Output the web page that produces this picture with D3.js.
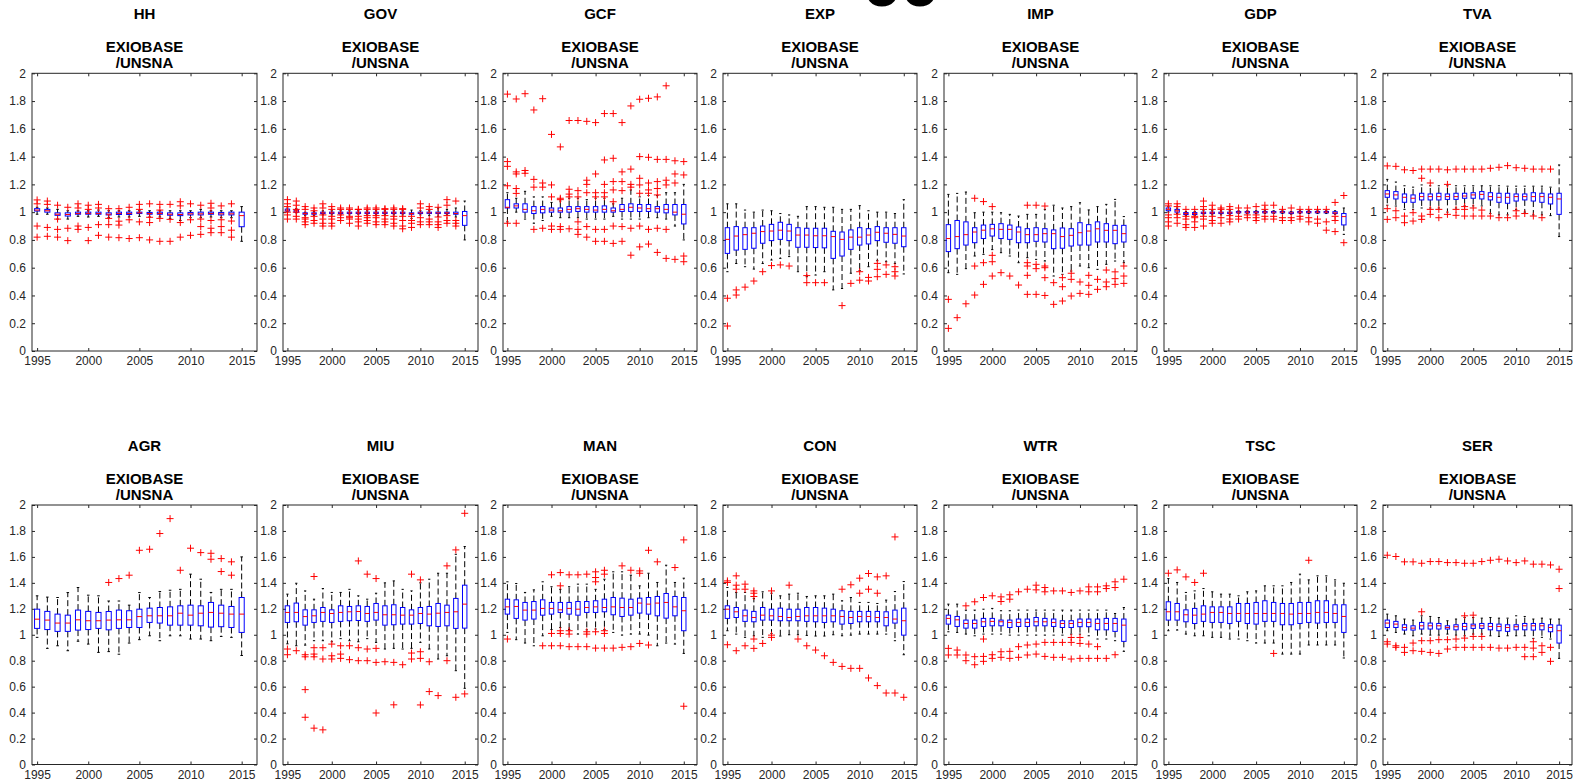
<!DOCTYPE html>
<html>
<head>
<meta charset="utf-8">
<script src="https://cdn.jsdelivr.net/npm/d3@7"></script>
<style>
  body { margin: 0; background: #fff; }
  svg { display: block; }
  text { font-family: "Liberation Sans", Arial, Helvetica, sans-serif; }
</style>
</head>
<body>
<div id="chart"></div>
<script>
// ---- data ----
var panels = ["HH", "GOV", "GCF", "EXP", "IMP", "GDP", "TVA",
              "AGR", "MIU", "MAN", "CON", "WTR", "TSC", "SER"];
var subtitle = ["EXIOBASE", "/UNSNA"];
var years = [1995, 1996, 1997, 1998, 1999, 2000, 2001, 2002, 2003, 2004, 2005,
             2006, 2007, 2008, 2009, 2010, 2011, 2012, 2013, 2014, 2015];
var xTicks = [1995, 2000, 2005, 2010, 2015];
var yTicks = [0, 0.2, 0.4, 0.6, 0.8, 1, 1.2, 1.4, 1.6, 1.8, 2];

// lower quartile, one row per panel (same order as panels)
var q1 = [
  [1.008,1.0,0.977,0.972,0.985,0.985,0.985,0.98,0.983,0.983,0.99,0.985,0.985,0.978,0.975,0.98,0.98,0.985,0.98,0.98,0.895],
  [1.008,1.0,0.985,0.985,0.99,0.99,0.99,0.99,0.99,0.99,0.99,0.99,0.99,0.99,0.985,0.99,0.99,0.99,0.99,0.985,0.905],
  [1.03,1.03,1.0,0.99,0.995,1.0,1.0,1.0,1.005,1.0,1.0,1.0,1.0,1.005,1.005,1.005,1.005,1.0,0.995,0.98,0.915],
  [0.703,0.727,0.732,0.74,0.776,0.795,0.804,0.795,0.747,0.747,0.745,0.743,0.667,0.684,0.732,0.763,0.771,0.795,0.783,0.776,0.751],
  [0.716,0.737,0.763,0.78,0.81,0.828,0.81,0.804,0.78,0.78,0.79,0.785,0.737,0.74,0.756,0.763,0.763,0.785,0.785,0.773,0.785],
  [1.01,1.0,0.983,0.983,0.99,0.99,0.99,0.99,0.995,0.995,0.995,0.995,0.995,0.995,0.99,0.995,0.995,0.995,0.995,0.99,0.908],
  [1.107,1.095,1.071,1.071,1.088,1.088,1.088,1.092,1.092,1.1,1.1,1.095,1.088,1.071,1.064,1.08,1.088,1.08,1.071,1.059,0.984],
  [1.049,1.04,1.026,1.026,1.036,1.04,1.049,1.038,1.049,1.056,1.056,1.095,1.09,1.074,1.074,1.074,1.069,1.059,1.062,1.056,1.018],
  [1.095,1.1,1.074,1.095,1.103,1.095,1.103,1.108,1.11,1.103,1.113,1.074,1.077,1.082,1.082,1.087,1.069,1.064,1.069,1.049,1.051],
  [1.159,1.126,1.113,1.121,1.151,1.159,1.172,1.159,1.151,1.172,1.172,1.177,1.154,1.141,1.151,1.167,1.159,1.146,1.128,1.146,1.031],
  [1.126,1.133,1.103,1.1,1.113,1.113,1.108,1.108,1.108,1.103,1.1,1.095,1.1,1.082,1.087,1.1,1.1,1.1,1.069,1.09,0.997],
  [1.082,1.064,1.051,1.051,1.064,1.069,1.069,1.056,1.064,1.064,1.069,1.069,1.064,1.056,1.056,1.062,1.062,1.038,1.038,1.026,0.949],
  [1.113,1.113,1.1,1.087,1.103,1.095,1.095,1.087,1.103,1.087,1.082,1.103,1.103,1.077,1.077,1.087,1.095,1.09,1.095,1.095,1.018],
  [1.056,1.056,1.036,1.036,1.044,1.044,1.044,1.044,1.038,1.038,1.049,1.049,1.038,1.031,1.026,1.038,1.038,1.036,1.038,1.023,0.936]
];
// medians
var med = [
  [1.015,1.01,0.985,0.983,0.99,0.99,0.99,0.985,0.99,0.99,0.995,0.99,0.99,0.985,0.983,0.988,0.988,0.99,0.988,0.988,0.975],
  [1.015,1.01,0.99,0.99,0.995,0.995,0.995,0.995,0.995,0.995,0.995,0.995,0.995,0.995,0.99,0.995,0.995,0.995,0.995,0.99,0.975],
  [1.035,1.045,1.02,1.01,1.02,1.015,1.01,1.02,1.025,1.02,1.015,1.02,1.01,1.02,1.035,1.03,1.025,1.025,1.02,1.0,0.985],
  [0.804,0.828,0.838,0.848,0.86,0.864,0.87,0.864,0.835,0.835,0.83,0.83,0.824,0.804,0.82,0.82,0.835,0.855,0.848,0.84,0.828],
  [0.81,0.824,0.838,0.857,0.87,0.88,0.876,0.876,0.857,0.838,0.838,0.845,0.845,0.824,0.833,0.852,0.864,0.88,0.869,0.869,0.845],
  [1.02,1.01,0.99,0.99,0.995,0.995,0.995,0.995,1.0,1.0,1.0,1.0,1.0,1.0,0.995,1.0,1.0,1.0,1.0,0.995,0.968],
  [1.131,1.124,1.107,1.1,1.112,1.112,1.112,1.112,1.112,1.116,1.124,1.128,1.112,1.107,1.107,1.112,1.112,1.112,1.112,1.107,1.095],
  [1.12,1.113,1.09,1.09,1.115,1.108,1.108,1.113,1.115,1.115,1.14,1.146,1.146,1.146,1.166,1.151,1.166,1.172,1.166,1.159,1.159],
  [1.172,1.172,1.14,1.146,1.172,1.164,1.172,1.177,1.179,1.164,1.172,1.154,1.154,1.151,1.151,1.164,1.159,1.166,1.172,1.177,1.236],
  [1.215,1.218,1.19,1.19,1.203,1.203,1.192,1.203,1.197,1.21,1.215,1.21,1.215,1.21,1.21,1.244,1.236,1.244,1.249,1.215,1.185],
  [1.197,1.177,1.146,1.133,1.151,1.146,1.141,1.133,1.141,1.146,1.146,1.146,1.146,1.141,1.133,1.141,1.141,1.133,1.133,1.121,1.108],
  [1.126,1.115,1.087,1.087,1.1,1.103,1.1,1.095,1.095,1.095,1.1,1.1,1.095,1.087,1.087,1.095,1.095,1.087,1.087,1.087,1.074],
  [1.177,1.177,1.154,1.151,1.159,1.172,1.172,1.164,1.164,1.164,1.164,1.164,1.164,1.164,1.159,1.164,1.164,1.172,1.172,1.164,1.141],
  [1.09,1.082,1.056,1.051,1.069,1.069,1.069,1.056,1.062,1.064,1.069,1.069,1.064,1.064,1.056,1.062,1.069,1.069,1.069,1.056,1.031]
];
// upper quartile
var q3 = [
  [1.025,1.02,0.995,0.995,1.0,1.0,1.0,0.995,1.0,1.0,1.0,0.998,1.0,0.995,0.995,0.998,1.0,1.0,0.998,1.0,1.0],
  [1.022,1.017,0.995,0.995,1.0,1.0,1.0,1.0,1.0,1.0,1.0,1.0,1.0,1.0,0.995,1.0,1.0,1.0,1.0,1.0,1.005],
  [1.09,1.06,1.06,1.04,1.04,1.03,1.03,1.04,1.04,1.04,1.04,1.045,1.03,1.055,1.06,1.055,1.055,1.04,1.055,1.055,1.055],
  [0.888,0.896,0.888,0.888,0.9,0.912,0.927,0.912,0.888,0.884,0.884,0.884,0.862,0.857,0.872,0.888,0.881,0.896,0.888,0.888,0.888],
  [0.91,0.94,0.93,0.888,0.907,0.912,0.917,0.907,0.893,0.881,0.888,0.881,0.872,0.886,0.881,0.924,0.91,0.93,0.917,0.905,0.905],
  [1.03,1.02,0.997,0.997,1.0,1.0,1.0,1.0,1.005,1.005,1.005,1.005,1.005,1.005,1.0,1.005,1.005,1.005,1.005,1.003,0.99],
  [1.155,1.148,1.131,1.124,1.136,1.131,1.136,1.131,1.136,1.136,1.14,1.148,1.14,1.136,1.136,1.131,1.131,1.14,1.136,1.131,1.136],
  [1.197,1.18,1.159,1.151,1.19,1.18,1.172,1.179,1.19,1.185,1.197,1.205,1.21,1.215,1.223,1.228,1.223,1.249,1.228,1.218,1.287],
  [1.223,1.244,1.192,1.192,1.21,1.192,1.223,1.218,1.223,1.218,1.241,1.223,1.231,1.21,1.192,1.21,1.218,1.241,1.228,1.28,1.382],
  [1.274,1.269,1.249,1.256,1.269,1.249,1.249,1.249,1.256,1.256,1.262,1.274,1.287,1.282,1.274,1.282,1.287,1.295,1.318,1.295,1.287],
  [1.223,1.21,1.19,1.18,1.21,1.197,1.205,1.197,1.197,1.21,1.21,1.205,1.197,1.185,1.18,1.18,1.18,1.18,1.177,1.19,1.205],
  [1.151,1.141,1.113,1.113,1.126,1.126,1.113,1.113,1.121,1.121,1.133,1.126,1.121,1.108,1.108,1.121,1.121,1.121,1.126,1.126,1.121],
  [1.254,1.241,1.192,1.203,1.223,1.215,1.215,1.215,1.241,1.241,1.249,1.262,1.249,1.241,1.241,1.249,1.249,1.262,1.262,1.231,1.231],
  [1.113,1.103,1.077,1.069,1.095,1.09,1.087,1.069,1.077,1.087,1.082,1.087,1.087,1.082,1.077,1.077,1.087,1.087,1.087,1.077,1.074]
];
// lower whisker end
var lo = [
  [0.985,0.985,0.95,0.95,0.97,0.965,0.97,0.96,0.965,0.965,0.97,0.965,0.965,0.955,0.94,0.96,0.96,0.965,0.96,0.96,0.79],
  [1.003,0.995,0.975,0.975,0.98,0.98,0.98,0.98,0.985,0.98,0.98,0.98,0.98,0.98,0.955,0.98,0.975,0.97,0.98,0.965,0.8],
  [0.93,1.0,0.95,0.92,0.94,0.97,0.96,0.96,0.96,0.95,0.95,0.95,0.97,0.95,0.95,0.95,0.96,0.96,0.95,0.9,0.8],
  [0.571,0.63,0.607,0.59,0.63,0.655,0.667,0.68,0.571,0.535,0.547,0.571,0.44,0.45,0.56,0.579,0.607,0.65,0.643,0.63,0.555],
  [0.564,0.552,0.593,0.684,0.696,0.73,0.708,0.684,0.636,0.672,0.66,0.648,0.54,0.552,0.576,0.612,0.6,0.588,0.624,0.648,0.636],
  [1.0,0.99,0.975,0.975,0.98,0.98,0.98,0.98,0.99,0.99,0.99,0.99,0.99,0.99,0.985,0.99,0.99,0.99,0.99,0.985,0.84],
  [1.05,1.044,1.02,1.02,1.03,1.03,1.03,1.0,1.03,1.045,1.045,1.045,0.99,0.98,0.98,1.02,1.0,0.98,0.98,0.975,0.824],
  [0.98,0.895,0.915,0.877,0.95,0.928,0.864,0.87,0.85,0.936,0.962,0.992,0.954,0.992,0.992,0.967,0.967,0.954,0.987,0.98,0.84],
  [0.93,0.915,0.92,0.954,0.954,0.946,0.97,0.954,0.946,0.97,0.941,0.89,0.895,0.89,0.895,0.941,0.89,0.813,0.838,0.723,0.587],
  [1.018,0.962,0.936,0.915,0.992,1.04,1.056,1.04,1.005,1.038,1.044,1.04,1.018,0.997,1.005,1.005,0.997,0.915,0.936,0.928,0.856],
  [1.031,1.005,0.98,0.992,0.98,1.01,0.99,1.0,1.0,0.995,0.99,0.99,1.0,0.992,0.997,1.005,1.005,1.005,1.005,0.954,0.846],
  [1.023,1.018,1.005,0.992,1.005,1.005,1.005,0.997,0.997,0.997,0.997,0.997,0.997,0.997,1.005,1.005,0.992,0.967,0.967,0.954,0.872],
  [1.031,1.036,1.005,0.992,0.992,0.98,0.98,0.967,0.967,0.954,0.936,0.936,0.936,0.851,0.851,0.851,0.921,0.921,0.921,0.921,0.821],
  [1.031,1.018,1.005,0.992,1.005,0.997,0.997,1.005,0.997,0.992,1.005,1.005,0.992,0.987,0.992,0.992,0.992,0.972,0.98,0.967,0.818]
];
// upper whisker end
var hi = [
  [1.035,1.03,1.02,1.01,1.01,1.01,1.015,1.01,1.01,1.01,1.01,1.01,1.01,1.01,1.01,1.01,1.02,1.01,1.01,1.01,1.04],
  [1.03,1.025,1.0,1.005,1.01,1.01,1.01,1.01,1.01,1.01,1.01,1.01,1.01,1.01,1.015,1.01,1.01,1.03,1.02,1.03,1.08],
  [1.14,1.1,1.15,1.11,1.11,1.07,1.08,1.1,1.1,1.09,1.1,1.1,1.06,1.1,1.16,1.11,1.12,1.12,1.14,1.14,1.2],
  [1.06,1.06,1.015,1.0,1.015,1.01,0.99,0.98,0.97,1.04,1.04,1.035,1.035,1.02,1.02,1.047,1.01,1.0,1.0,0.99,1.09],
  [1.128,1.135,1.145,0.996,1.0,1.0,0.996,0.984,0.972,0.984,0.984,1.02,1.05,1.03,1.04,1.068,1.016,1.04,1.056,1.092,0.968],
  [1.04,1.03,1.005,1.005,1.01,1.01,1.01,1.01,1.01,1.01,1.01,1.01,1.01,1.01,1.005,1.01,1.01,1.01,1.01,1.01,1.03],
  [1.236,1.217,1.19,1.18,1.196,1.19,1.19,1.19,1.19,1.19,1.19,1.19,1.19,1.19,1.187,1.187,1.187,1.187,1.187,1.18,1.34],
  [1.3,1.29,1.287,1.325,1.364,1.305,1.3,1.26,1.26,1.228,1.325,1.287,1.333,1.343,1.35,1.467,1.428,1.326,1.35,1.35,1.6],
  [1.313,1.397,1.338,1.274,1.356,1.326,1.326,1.35,1.3,1.274,1.32,1.4,1.415,1.35,1.338,1.4,1.428,1.474,1.474,1.62,1.68],
  [1.408,1.395,1.326,1.346,1.408,1.37,1.35,1.37,1.39,1.39,1.35,1.428,1.485,1.485,1.459,1.377,1.474,1.403,1.536,1.403,1.436],
  [1.364,1.326,1.326,1.28,1.331,1.32,1.3,1.313,1.32,1.295,1.3,1.3,1.313,1.262,1.287,1.249,1.249,1.241,1.267,1.333,1.41],
  [1.236,1.236,1.19,1.19,1.197,1.203,1.185,1.185,1.19,1.19,1.19,1.19,1.19,1.19,1.19,1.19,1.19,1.19,1.19,1.164,1.21],
  [1.433,1.403,1.326,1.338,1.356,1.331,1.313,1.313,1.3,1.331,1.338,1.377,1.377,1.377,1.403,1.467,1.423,1.454,1.454,1.423,1.397],
  [1.159,1.146,1.121,1.113,1.146,1.141,1.133,1.108,1.121,1.133,1.133,1.128,1.133,1.128,1.128,1.146,1.141,1.121,1.128,1.121,1.121]
];
// outliers per panel, per year
var outliers = [
  [[1.088,1.06,0.9,0.82],[1.08,1.056,0.89,0.826],[1.05,0.95,0.876,0.82],[1.035,0.884,0.795],[1.06,1.03,0.9,0.876],[1.05,1.02,0.89,0.795],[1.056,1.03,0.91,0.833],[1.025,0.955,0.91,0.82],[1.025,0.935,0.907,0.816],[1.035,0.945,0.81],[1.056,1.02,0.93,0.816],[1.06,0.963,0.925,0.8],[1.056,1.015,0.955,0.79],[1.056,0.948,0.79],[1.075,1.045,0.925,0.82],[1.06,0.945,0.833],[1.05,0.95,0.896,0.84],[1.064,1.03,0.94,0.884,0.852],[1.045,0.945,0.896,0.852],[1.06,0.936,0.87,0.82],[]],
  [[1.09,1.06,1.04,1.0,0.98,0.95],[1.08,1.05,1.02,1.0,0.97,0.95],[1.04,1.02,0.96,0.95,0.93,0.91],[1.03,1.01,0.97,0.94,0.92],[1.06,1.03,0.98,0.95,0.92,0.9],[1.04,1.02,0.97,0.95,0.92,0.9],[1.03,1.02,0.98,0.96,0.94],[1.03,1.02,0.97,0.96,0.95,0.92],[1.02,1.02,0.97,0.95,0.93,0.9],[1.03,1.02,0.975,0.96,0.94,0.92],[1.03,1.02,0.975,0.96,0.93,0.91],[1.025,1.02,0.975,0.95,0.93,0.91],[1.03,1.02,0.97,0.95,0.92,0.9],[1.025,1.02,0.97,0.94,0.9,0.88],[0.97,0.94,0.92,0.89],[1.06,1.03,0.96,0.93,0.91],[1.04,1.02,0.95,0.93,0.91],[1.035,0.965,0.93,0.91,0.89],[1.09,1.05,0.975,0.94,0.92],[1.08,0.94,0.92,0.9],[]],
  [[1.85,1.364,1.33,1.19,0.92],[1.815,1.29,1.275,1.17,1.135,0.92],[1.853,1.3,1.28],[1.736,1.236,1.18,0.876],[1.817,1.21,1.18,0.884],[1.56,1.196,1.11,0.9,0.876],[1.47,1.1,1.09,0.896,0.876],[1.66,1.165,1.13,1.11,0.88],[1.66,1.155,1.11,0.93,0.876,0.84],[1.654,1.23,1.2,1.14,0.896,0.82],[1.645,1.275,1.14,1.11,0.876,0.79],[1.71,1.376,1.2,1.14,1.11,0.876,0.79],[1.71,1.388,1.22,1.16,1.075,0.9,0.775],[1.645,1.29,1.22,1.155,0.896,0.79],[1.765,1.31,1.2,1.18,0.884,0.69],[1.813,1.4,1.244,1.196,1.136,0.9,0.75],[1.82,1.395,1.21,1.16,1.136,0.876,0.77],[1.83,1.38,1.22,1.17,1.124,0.884,0.71],[1.91,1.38,1.23,1.196,0.876,0.667],[1.37,1.275,1.21,0.66],[1.364,1.268,0.684,0.643]],
  [[0.38,0.18],[0.44,0.403],[0.46],[0.504],[0.571],[0.615],[0.62],[0.612],[],[0.543,0.492],[0.492],[0.492],[],[0.327],[0.487],[0.571,0.51],[0.53,0.504],[0.631,0.588,0.535],[0.62,0.552],[0.607,0.571,0.54],[]],
  [[0.372,0.163],[0.24],[0.34],[1.1,0.612,0.403],[1.076,0.636,0.48],[1.04,0.689,0.643,0.54],[0.564],[0.54],[0.475],[1.05,0.636,0.612,0.545,0.408],[1.05,0.624,0.593,0.408],[1.044,0.612,0.6,0.528,0.4],[0.492,0.336],[0.528,0.463,0.36],[0.56,0.516,0.396],[0.497,0.415],[0.545,0.473,0.408],[0.516,0.444],[0.583,0.497,0.463],[0.57,0.521,0.48],[0.612,0.54,0.487]],
  [[1.06,1.045,0.98,0.96,0.93,0.9],[1.06,1.04,0.985,0.96,0.92],[1.02,0.97,0.95,0.91,0.89],[1.02,0.97,0.96,0.93,0.89],[1.08,1.04,1.02,0.97,0.95,0.9],[1.05,1.02,0.97,0.94,0.92],[1.03,1.02,0.96,0.92],[1.04,1.02,0.975,0.95,0.93],[1.03,0.97,0.95],[1.03,0.98,0.96],[1.04,0.98,0.96,0.94],[1.05,1.02,0.97,0.95],[1.05,0.97,0.95],[1.02,0.96,0.94],[1.03,0.96,0.94],[1.02,0.97,0.95],[1.02,0.96,0.93],[1.02,0.95,0.92],[1.02,0.93,0.87],[1.07,0.97,0.94,0.86],[1.12,0.78]],
  [[1.333,1.025,0.948],[1.33,1.01,0.96],[1.305,0.972,0.924],[1.3,0.996,0.936],[1.31,1.244,0.972,0.948],[1.31,1.21,1.02,0.984],[1.31,1.02,0.96],[1.305,1.2,0.984],[1.31,1.02,0.977],[1.31,1.04,1.02,0.972],[1.31,1.03,0.972],[1.31,1.015,0.972],[1.316,0.972],[1.323,0.96],[1.335,0.96],[1.32,1.01,0.972],[1.316,0.99],[1.31,0.972],[1.31,0.96],[1.31],[]],
  [[],[],[],[],[],[],[],[1.403],[1.433],[1.459],[1.651],[1.659],[1.78],[1.895],[1.497],[1.667],[1.633],[1.628,1.582],[1.587,1.487],[1.562,1.459],[]],
  [[0.89,0.846],[0.877],[0.846,0.83,0.577,0.364],[1.449,0.9,0.851,0.83,0.28],[0.9,0.813,0.267],[0.928,0.838,0.813],[0.915,0.851,0.818],[0.915,0.808],[1.569,0.9,0.8],[1.467,0.89,0.8],[1.433,0.895,0.787,0.397],[0.792],[0.787,0.46],[0.769],[1.467,0.859,0.813],[1.423,0.869,0.818,0.459],[0.792,0.562],[0.531],[1.531,0.8],[1.654,0.518],[1.936,0.544]],
  [[0.967],[],[],[],[0.915],[1.462,1.01,0.915],[1.479,1.377,1.031,1.01,0.915],[1.462,1.031,1.005,0.908],[1.462,0.908],[1.467,1.023,1.005,0.908],[1.485,1.441,1.408,1.023,0.897],[1.497,1.467,1.031,1.01,0.897],[0.897],[1.531,0.903],[1.497,0.908],[1.492,1.474,0.933],[1.651,0.921],[1.562],[],[1.518],[1.731,0.449]],
  [[1.415,1.403,0.923],[1.454,1.382,1.351,0.877],[1.39,1.351,0.915],[1.338,1.32,1.295,0.967,0.895],[0.933],[1.338,0.997,0.98],[],[1.382],[0.967],[0.915],[0.882],[0.838],[0.787],[1.351,0.756],[1.385,0.741],[1.436,1.32,0.741],[1.472,1.351,0.667],[1.446,1.32,0.608],[1.454,0.551],[1.754,0.551],[0.518]],
  [[0.895,0.844],[0.882,0.844],[1.223,0.844,0.8],[1.254,0.831,0.769],[1.287,0.967,0.833,0.795],[1.3,0.846,0.818],[1.292,1.256,0.869,0.826],[1.308,1.274,0.872,0.818],[1.331,0.908,0.826],[1.351,0.921,0.844],[1.382,1.346,0.928,0.851],[1.364,1.331,0.941,0.833],[1.338,0.941,0.826],[1.338,0.941,0.826],[1.326,0.979,0.941,0.813],[1.338,0.979,0.933,0.818],[1.369,1.331,0.928,0.818],[1.369,1.331,0.908,0.818],[1.377,1.356,0.818],[1.408,1.364,0.846],[1.428]],
  [[1.474],[1.5],[1.446],[1.403],[1.474],[],[],[],[],[],[],[],[0.856],[],[],[],[1.574],[],[],[],[]],
  [[1.613,0.946,0.928],[1.603,0.915,0.903],[1.562,0.903,0.864],[1.562,0.936,0.877],[1.551,1.177,0.954,0.872],[1.564,0.954,0.864],[1.564,0.962,0.856],[1.556,0.962,0.89],[1.556,0.967,0.903],[1.551,1.146,0.974,0.903],[1.551,1.151,0.987,0.903],[1.564,0.987,0.903],[1.574,0.903],[1.582,0.897],[1.569,0.897],[1.556,0.903],[1.569,0.903,0.831],[1.544,0.946,0.897,0.831],[1.544,0.915,0.864],[1.538,0.903,0.795],[1.505,1.356]]
];

// ---- layout ----
var colX = [[32,257],[283,478],[503,697],[723,917],[944,1137],[1164,1357],[1383,1572]];
var rowY = [[73.3,351],[505,764.5]];
var axisColor = '#262626';

var svg = d3.select('#chart').append('svg')
    .attr('width', 1574)
    .attr('height', 783);

// figure title, mostly cut off above the top edge
svg.append('text')
    .attr('x', 863).attr('y', 6)
    .attr('textLength', 76).attr('lengthAdjust', 'spacingAndGlyphs')
    .style('font-size', '70px').style('font-weight', 'bold')
    .text('oo');

panels.forEach(function (name, p) {
  var row = Math.floor(p / 7), col = p % 7;
  var x = d3.scaleLinear().domain([1994.5, 2016.5]).range(colX[col]);
  var y = d3.scaleLinear().domain([0, 2]).range([rowY[row][1], rowY[row][0]]);
  var top = rowY[row][0], bottom = rowY[row][1];
  var left = colX[col][0], right = colX[col][1];
  var g = svg.append('g');

  // titles
  var cx = (left + right) / 2;
  g.append('text').attr('x', cx).attr('y', top - 54).text(name);
  g.append('text').attr('x', cx).attr('y', top - 21.5).text(subtitle[0]);
  g.append('text').attr('x', cx).attr('y', top - 5.5).text(subtitle[1]);
  g.selectAll('text')
      .attr('text-anchor', 'middle')
      .style('font-size', '15px').style('font-weight', 'bold').style('fill', '#000');

  // axes, ticks pointing inward on all four sides
  var ax = g.append('g');
  ax.append('g').attr('transform', 'translate(' + left + ',0)')
      .call(d3.axisLeft(y).tickValues(yTicks).tickSize(-3).tickPadding(6).tickFormat(String));
  ax.append('g').attr('transform', 'translate(' + right + ',0)')
      .call(d3.axisRight(y).tickValues(yTicks).tickSize(-3).tickFormat(''));
  ax.append('g').attr('transform', 'translate(0,' + bottom + ')')
      .call(d3.axisBottom(x).tickValues(xTicks).tickSize(-3).tickPadding(5.5).tickFormat(String));
  ax.append('g').attr('transform', 'translate(0,' + top + ')')
      .call(d3.axisTop(x).tickValues(xTicks).tickSize(-3).tickFormat(''));
  ax.selectAll('.domain').remove();
  ax.selectAll('.tick line').attr('stroke', axisColor);
  ax.selectAll('.tick text')
      .attr('fill', axisColor)
      .style('font-size', '12px')
      .style('font-family', '"Liberation Sans", Arial, Helvetica, sans-serif');
  ax.append('rect')
      .attr('x', left).attr('y', top)
      .attr('width', right - left).attr('height', bottom - top)
      .attr('fill', 'none').attr('stroke', axisColor).attr('stroke-width', 1);

  var stats = years.map(function (yr, i) {
    return { yr: yr, lo: lo[p][i], q1: q1[p][i], med: med[p][i], q3: q3[p][i], hi: hi[p][i] };
  });
  var half = (x(1) - x(0)) / 4;   // boxes are half a year wide

  // whiskers
  g.selectAll('.whisker').data(stats).enter().append('path')
      .attr('class', 'whisker')
      .attr('d', function (d) {
        return 'M' + x(d.yr) + ',' + y(d.q3) + 'V' + y(d.hi) +
               'M' + x(d.yr) + ',' + y(d.q1) + 'V' + y(d.lo);
      })
      .attr('fill', 'none').attr('stroke', '#000').attr('stroke-dasharray', '6,3');
  // adjacent value caps
  g.selectAll('.cap').data(stats).enter().append('path')
      .attr('class', 'cap')
      .attr('d', function (d) {
        return 'M' + (x(d.yr) - half / 2) + ',' + y(d.hi) + 'H' + (x(d.yr) + half / 2) +
               'M' + (x(d.yr) - half / 2) + ',' + y(d.lo) + 'H' + (x(d.yr) + half / 2);
      })
      .attr('stroke', '#000');
  // boxes
  g.selectAll('.box').data(stats).enter().append('rect')
      .attr('class', 'box')
      .attr('x', function (d) { return x(d.yr) - half; })
      .attr('y', function (d) { return y(d.q3); })
      .attr('width', half * 2)
      .attr('height', function (d) { return y(d.q1) - y(d.q3); })
      .attr('fill', 'none').attr('stroke', '#0000ff');
  // medians
  g.selectAll('.median').data(stats).enter().append('line')
      .attr('class', 'median')
      .attr('x1', function (d) { return x(d.yr) - half; })
      .attr('x2', function (d) { return x(d.yr) + half; })
      .attr('y1', function (d) { return y(d.med); })
      .attr('y2', function (d) { return y(d.med); })
      .attr('stroke', '#ff0000');
  // outliers
  var pts = [];
  outliers[p].forEach(function (vals, i) {
    vals.forEach(function (v) { pts.push({ yr: years[i], v: v }); });
  });
  g.selectAll('.out').data(pts).enter().append('path')
      .attr('class', 'out')
      .attr('d', function (d) {
        var px = x(d.yr), py = y(d.v);
        return 'M' + (px - 3.5) + ',' + py + 'H' + (px + 3.5) +
               'M' + px + ',' + (py - 3.5) + 'V' + (py + 3.5);
      })
      .attr('stroke', '#ff0000').attr('fill', 'none');
});
</script>
</body>
</html>
